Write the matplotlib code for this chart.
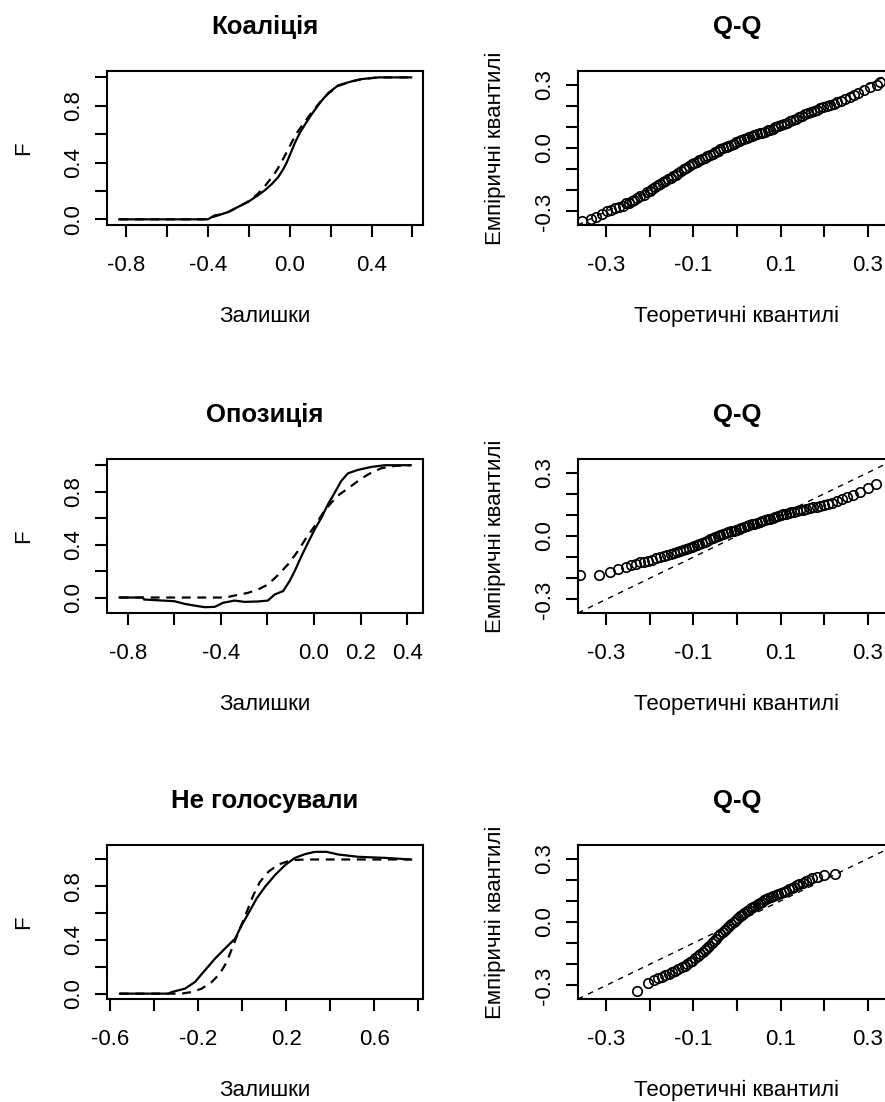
import matplotlib
matplotlib.use("Agg")
import matplotlib.pyplot as plt

plt.rcParams['font.family'] = ['Liberation Sans', 'DejaVu Sans']
plt.rcParams['axes.unicode_minus'] = False

# ---------------- data ----------------
titles_left = ["Коаліція", "Опозиція", "Не голосували"]

# Коаліція: empirical F (solid) and fitted F (dashed)
coal_x = [-0.835, -0.401, -0.368, -0.336, -0.303, -0.254, -0.205, -0.156, -0.123, -0.090, -0.057,
          -0.033, -0.016, 0.0, 0.025, 0.049, 0.074, 0.106, 0.147, 0.188, 0.237, 0.303, 0.352,
          0.434, 0.594]
coal_F = [0.0, 0.0, 0.028, 0.035, 0.051, 0.087, 0.122, 0.169, 0.204, 0.246, 0.297,
          0.351, 0.398, 0.452, 0.539, 0.609, 0.667, 0.738, 0.82, 0.89, 0.944, 0.972, 0.988,
          1.0, 1.0]
coal_fit_x = [-0.835, -0.42, -0.368, -0.303, -0.254, -0.205, -0.16, -0.13, -0.105, -0.08, -0.058,
              -0.04, -0.022, -0.005, 0.012, 0.035, 0.065, 0.10, 0.145, 0.188, 0.237, 0.303, 0.352,
              0.434, 0.594]
coal_fit_F = [0.0, 0.0, 0.02, 0.05, 0.085, 0.125, 0.175, 0.22, 0.265, 0.31, 0.36,
              0.405, 0.455, 0.50, 0.55, 0.61, 0.67, 0.74, 0.82, 0.885, 0.94, 0.972, 0.988,
              1.0, 1.0]

# Опозиція
opp_x = [-0.835, -0.735, -0.73, -0.599, -0.556, -0.513, -0.47, -0.427, -0.391, -0.341, -0.298,
         -0.241, -0.198, -0.169, -0.133, -0.105, -0.083, -0.054, -0.026, 0.003, 0.032, 0.06,
         0.089, 0.117, 0.146, 0.189, 0.246, 0.304, 0.415]
opp_F = [0.0, 0.0, -0.015, -0.028, -0.048, -0.061, -0.073, -0.071, -0.04, -0.023, -0.033,
         -0.03, -0.023, 0.023, 0.048, 0.124, 0.2, 0.313, 0.414, 0.515, 0.604, 0.705,
         0.793, 0.881, 0.939, 0.965, 0.987, 1.0, 1.0]
opp_fit_x = [-0.835, -0.38, -0.341, -0.284, -0.241, -0.198, -0.155, -0.112, -0.069, -0.033, 0.003,
             0.039, 0.074, 0.11, 0.16, 0.203, 0.246, 0.289, 0.347, 0.415]
opp_fit_F = [0.0, 0.0, 0.015, 0.035, 0.06, 0.098, 0.169, 0.25, 0.351, 0.452, 0.54,
             0.641, 0.717, 0.78, 0.843, 0.899, 0.944, 0.977, 0.995, 1.0]

# Не голосували
nv_x = [-0.556, -0.336, -0.321, -0.261, -0.215, -0.17, -0.124, -0.079, -0.033, -0.003, 0.027,
        0.065, 0.103, 0.148, 0.194, 0.239, 0.285, 0.33, 0.383, 0.436, 0.527, 0.648, 0.767]
nv_F = [0.0, 0.0, 0.012, 0.037, 0.087, 0.174, 0.261, 0.336, 0.41, 0.51, 0.597,
        0.709, 0.796, 0.883, 0.958, 1.012, 1.04, 1.057, 1.057, 1.037, 1.02, 1.012, 1.0]
nv_fit_x = [-0.556, -0.276, -0.23, -0.185, -0.139, -0.102, -0.071, -0.041, -0.011, 0.02, 0.05,
            0.08, 0.118, 0.164, 0.224, 0.285, 0.767]
nv_fit_F = [0.0, 0.0, 0.012, 0.037, 0.087, 0.149, 0.236, 0.361, 0.485, 0.609, 0.734,
            0.833, 0.908, 0.963, 0.995, 1.0, 1.0]

# Q-Q: theoretical (x) and empirical (y) quantiles
qq1_x = [-0.355, -0.335, -0.322, -0.31, -0.298, -0.288, -0.279, -0.270, -0.262, -0.255, -0.248,
         -0.241, -0.235, -0.228, -0.221, -0.214, -0.207, -0.200, -0.194, -0.188, -0.182, -0.176,
         -0.170, -0.164, -0.158, -0.152, -0.146, -0.140, -0.134, -0.128, -0.122, -0.116, -0.110,
         -0.104, -0.098, -0.092, -0.086, -0.080, -0.074, -0.068, -0.062, -0.056, -0.050, -0.044,
         -0.038, -0.032, -0.026, -0.020, -0.014, -0.008, -0.002, 0.004, 0.010, 0.016, 0.022,
         0.028, 0.034, 0.040, 0.046, 0.052, 0.058, 0.064, 0.070, 0.076, 0.082, 0.088, 0.094,
         0.100, 0.107, 0.114, 0.121, 0.128, 0.135, 0.142, 0.149, 0.156, 0.163, 0.170, 0.177,
         0.184, 0.191, 0.198, 0.206, 0.214, 0.222, 0.230, 0.239, 0.248, 0.258, 0.268, 0.278,
         0.290, 0.305, 0.321, 0.328]
qq1_y = [-0.345, -0.335, -0.325, -0.312, -0.300, -0.292, -0.285, -0.278, -0.272, -0.262, -0.258,
         -0.250, -0.246, -0.236, -0.229, -0.220, -0.210, -0.203, -0.192, -0.185, -0.177, -0.170,
         -0.163, -0.156, -0.148, -0.141, -0.134, -0.128, -0.119, -0.110, -0.101, -0.093, -0.084,
         -0.076, -0.070, -0.064, -0.057, -0.051, -0.045, -0.038, -0.032, -0.026, -0.019, -0.013,
         -0.007, -0.001, 0.005, 0.011, 0.016, 0.021, 0.027, 0.032, 0.037, 0.042, 0.047,
         0.052, 0.057, 0.061, 0.065, 0.069, 0.073, 0.078, 0.083, 0.087, 0.092, 0.098, 0.104,
         0.109, 0.114, 0.120, 0.126, 0.132, 0.138, 0.145, 0.152, 0.159, 0.166, 0.172, 0.177,
         0.182, 0.188, 0.192, 0.198, 0.205, 0.210, 0.217, 0.224, 0.232, 0.242, 0.252, 0.262,
         0.275, 0.290, 0.300, 0.310]

qq2_x = [-0.360, -0.317, -0.291, -0.272, -0.255, -0.242, -0.232, -0.222, -0.212, -0.203, -0.194,
         -0.185, -0.176, -0.168, -0.160, -0.152, -0.144, -0.137, -0.130, -0.123, -0.116, -0.110,
         -0.104, -0.098, -0.092, -0.086, -0.080, -0.074, -0.068, -0.062, -0.056, -0.050, -0.044,
         -0.038, -0.032, -0.026, -0.020, -0.014, -0.008, -0.002, 0.004, 0.010, 0.016, 0.022,
         0.028, 0.034, 0.040, 0.046, 0.052, 0.058, 0.064, 0.070, 0.076, 0.082, 0.088, 0.094,
         0.100, 0.106, 0.112, 0.118, 0.124, 0.130, 0.137, 0.144, 0.151, 0.158, 0.166, 0.174,
         0.182, 0.190, 0.199, 0.208, 0.218, 0.228, 0.240, 0.252, 0.266, 0.282, 0.300, 0.318]
qq2_y = [-0.184, -0.184, -0.170, -0.158, -0.146, -0.137, -0.130, -0.124, -0.121, -0.118, -0.112,
         -0.105, -0.100, -0.095, -0.090, -0.085, -0.081, -0.076, -0.072, -0.067, -0.061, -0.057,
         -0.053, -0.048, -0.043, -0.038, -0.033, -0.028, -0.022, -0.016, -0.011, -0.006, -0.001,
         0.004, 0.009, 0.014, 0.018, 0.022, 0.026, 0.030, 0.034, 0.038, 0.042, 0.046,
         0.051, 0.055, 0.059, 0.063, 0.067, 0.071, 0.075, 0.079, 0.082, 0.086, 0.090, 0.094,
         0.098, 0.102, 0.106, 0.109, 0.112, 0.115, 0.118, 0.121, 0.124, 0.127, 0.131, 0.135,
         0.139, 0.142, 0.147, 0.152, 0.158, 0.165, 0.174, 0.183, 0.196, 0.210, 0.228, 0.246]

qq3_x = [-0.229, -0.203, -0.190, -0.180, -0.172, -0.164, -0.156, -0.148, -0.141, -0.134, -0.127,
         -0.120, -0.114, -0.108, -0.102, -0.096, -0.090, -0.084, -0.078, -0.073, -0.068, -0.063,
         -0.058, -0.053, -0.048, -0.043, -0.038, -0.033, -0.028, -0.023, -0.018, -0.013, -0.008,
         -0.003, 0.002, 0.007, 0.012, 0.017, 0.022, 0.027, 0.032, 0.037, 0.042, 0.047, 0.052,
         0.057, 0.062, 0.067, 0.072, 0.077, 0.083, 0.089, 0.095, 0.101, 0.107, 0.113, 0.119,
         0.125, 0.131, 0.137, 0.143, 0.150, 0.157, 0.164, 0.172, 0.182, 0.199, 0.224]
qq3_y = [-0.327, -0.290, -0.275, -0.265, -0.258, -0.251, -0.245, -0.238, -0.230, -0.222, -0.215,
         -0.207, -0.199, -0.191, -0.182, -0.172, -0.163, -0.153, -0.143, -0.134, -0.124, -0.112,
         -0.100, -0.090, -0.078, -0.067, -0.058, -0.049, -0.040, -0.030, -0.020, -0.010, 0.000,
         0.009, 0.018, 0.027, 0.035, 0.043, 0.050, 0.058, 0.065, 0.072, 0.078, 0.084, 0.090,
         0.096, 0.102, 0.108, 0.113, 0.118, 0.122, 0.127, 0.132, 0.137, 0.142, 0.148, 0.154,
         0.160, 0.166, 0.173, 0.180, 0.186, 0.193, 0.200, 0.208, 0.214, 0.220, 0.228]

# axis ticks / labels
left_xticks = [[-0.8, -0.6, -0.4, -0.2, 0.0, 0.2, 0.4, 0.6],
               [-0.8, -0.6, -0.4, -0.2, 0.0, 0.2, 0.4],
               [-0.6, -0.4, -0.2, 0.0, 0.2, 0.4, 0.6, 0.8]]
left_xlabels = [["-0.8", "", "-0.4", "", "0.0", "", "0.4", ""],
                ["-0.8", "", "-0.4", "", "0.0", "0.2", "0.4"],
                ["-0.6", "", "-0.2", "", "0.2", "", "0.6", ""]]
left_yticks = [0.0, 0.2, 0.4, 0.6, 0.8, 1.0]
left_ylabels = ["0.0", "", "0.4", "", "0.8", ""]
qq_ticks = [-0.3, -0.2, -0.1, 0.0, 0.1, 0.2, 0.3]
qq_xlabels = ["-0.3", "", "-0.1", "", "0.1", "", "0.3"]
qq_ylabels = ["-0.3", "", "", "0.0", "", "", "0.3"]

left_xlims = [(-0.895, 0.652), (-0.889, 0.468), (-0.615, 0.821)]
left_ylims = [(-0.04, 1.045), (-0.117, 1.047), (-0.04, 1.108)]
qq_lim = (-0.364, 0.364)

# ---------------- figure ----------------
W, H = 885, 1102
fig = plt.figure(figsize=(W / 100, H / 100), dpi=100)
fig.patch.set_facecolor("white")

rows_top = [71, 459, 845]
AX_H = 154
LEFT_X, LEFT_W = 107, 316
RIGHT_X, RIGHT_W = 578, 318
FS = 16
TFS = 18.5


def make_ax(x, top, w):
    return fig.add_axes([x / W, 1 - (top + AX_H) / H, w / W, AX_H / H])


def style(ax, w):
    for s in ax.spines.values():
        s.set_linewidth(1.5)
    ax.tick_params(axis='both', direction='out', length=8.8, width=1.5, labelsize=FS)
    ax.tick_params(axis='x', pad=12.5)
    ax.tick_params(axis='y', pad=7.5)
    for lbl in ax.get_yticklabels():
        lbl.set_rotation(90)
        lbl.set_va('center')
    ax.xaxis.set_label_coords(0.5, -97 / AX_H)
    ax.xaxis.label.set_va('baseline')
    ax.yaxis.set_label_coords(-77.5 / w, 0.5)
    ax.yaxis.label.set_va('baseline')


ecdf = [(coal_x, coal_F, coal_fit_x, coal_fit_F),
        (opp_x, opp_F, opp_fit_x, opp_fit_F),
        (nv_x, nv_F, nv_fit_x, nv_fit_F)]
qq = [(qq1_x, qq1_y), (qq2_x, qq2_y), (qq3_x, qq3_y)]

for i in range(3):
    # left: distribution functions
    ax = make_ax(LEFT_X, rows_top[i], LEFT_W)
    ex, eF, fx, fF = ecdf[i]
    ax.plot(ex, eF, color='black', lw=1.6)
    ax.plot(fx, fF, color='black', lw=1.6, linestyle=(0, (4, 3)))
    ax.set_xlim(*left_xlims[i])
    ax.set_ylim(*left_ylims[i])
    ax.set_xticks(left_xticks[i], left_xlabels[i])
    ax.set_yticks(left_yticks, left_ylabels)
    ax.set_title(titles_left[i], fontsize=TFS, fontweight='bold', y=1 + 37 / AX_H, pad=0, va='baseline')
    ax.set_xlabel("Залишки", fontsize=FS)
    ax.set_ylabel("F", fontsize=FS)
    style(ax, LEFT_W)

    # right: Q-Q
    ax2 = make_ax(RIGHT_X, rows_top[i], RIGHT_W)
    qx, qy = qq[i]
    ax2.axline((0, 0), slope=1, color='black', lw=1.0, linestyle=(0, (4, 4)))
    ax2.plot(qx, qy, linestyle='none', marker='o', markersize=6.8, markerfacecolor='none',
             markeredgecolor='black', markeredgewidth=1.2)
    ax2.set_xlim(*qq_lim)
    ax2.set_ylim(*qq_lim)
    ax2.set_xticks(qq_ticks, qq_xlabels)
    ax2.set_yticks(qq_ticks, qq_ylabels)
    ax2.set_title("Q-Q", fontsize=TFS, fontweight='bold', y=1 + 37 / AX_H, pad=0, va='baseline')
    ax2.set_xlabel("Теоретичні квантилі", fontsize=FS)
    ax2.set_ylabel("Емпіричні квантилі", fontsize=FS)
    style(ax2, RIGHT_W)

fig.savefig("out.png", dpi=100, facecolor="white")
